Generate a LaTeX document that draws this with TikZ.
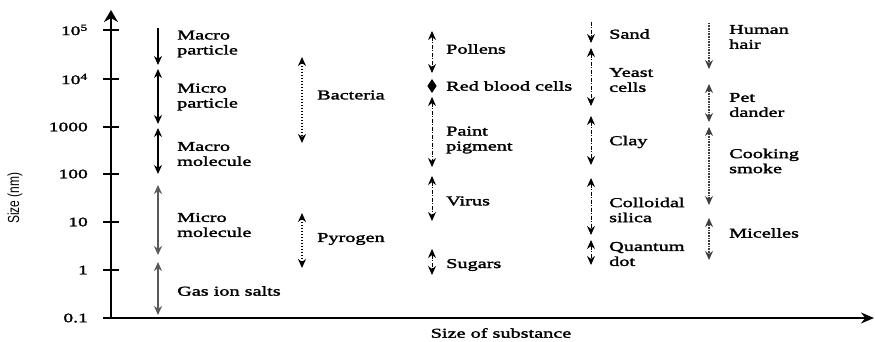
\documentclass[tikz,border=0pt]{standalone}
\usepackage{fontspec}
\setmainfont{Liberation Serif}[FakeStretch=1.5, FakeBold=2]
\newfontfamily\axisfont{Liberation Sans}[FakeStretch=0.75]
\usetikzlibrary{arrows.meta}

\tikzset{
  lab/.style={anchor=west, inner sep=0pt, align=left, font=\fontsize{13.5}{15}\selectfont},
  ticklab/.style={anchor=east, inner sep=0pt, font=\fontsize{13}{15}\selectfont},
  solidrange/.style={line width=1.4pt, black},
  grayrange/.style={line width=1.4pt, black!65},
  dotrange/.style={line width=1.8pt, dash pattern=on 1.6pt off 1.4pt},
  dashdotrange/.style={line width=0.9pt, dash pattern=on 4pt off 1.5pt on 1pt off 1.5pt},
  finerange/.style={line width=1.1pt, black!75, dash pattern=on 1pt off 0.6pt},
}

\begin{document}
\begin{tikzpicture}[x=1pt, y=-1pt, >={Stealth[length=9pt,width=8pt]}]
\useasboundingbox (0,0) rectangle (875,342);
% axes
\coordinate (orig) at (103,318);
\coordinate (ybase) at (111,318);
\coordinate (ytip) at (111,10);
\coordinate (xtip) at (874,318);
\draw[line width=1.8pt, -{Stealth[length=12pt,width=14pt]}] (ybase) -- (ytip);
\draw[line width=1.8pt, -{Stealth[length=13pt,width=11pt]}] (orig) -- (xtip);
\foreach \y / \v in {30/10\textsuperscript{5}, 79/10\textsuperscript{4}, 127/1000, 174/100, 222/10, 270/1, 318/0.1} {
  \draw[line width=1.1pt] (103,\y) -- (119,\y);
  \node[ticklab] (tick\y) at (88,\y) {\v};
}
\node[rotate=90, inner sep=0pt, font=\axisfont\fontsize{16}{18}\selectfont] (ylab) at (15,198) {Size (nm)};
\node[font=\fontsize{13.5}{15}\selectfont] (xlab) at (501,333) {Size of substance};

% column 1: particles and molecules
\foreach \t / \b / \tip / \sty / \ly / \txt [count=\i] in {28/65/->/solidrange/44/{Macro\\particle}, 69/124/<->/solidrange/97/{Micro\\particle}, 128/174/<->/solidrange/154/{Macro\\molecule}, 185/255/<->/grayrange/225/{Micro\\molecule}, 262/315/<->/grayrange/291/{Gas ion salts}} {
  \coordinate (c1t\i) at (158,\t);
  \coordinate (c1b\i) at (158,\b);
  \draw[\sty, \tip] (c1t\i) -- (c1b\i);
  \node[lab] (c1l\i) at (177,\ly) {\txt};
}

% column 2
\foreach \t / \b / \ly / \txt [count=\i] in {57/143/95/Bacteria, 213/268/239/Pyrogen} {
  \coordinate (c2t\i) at (302,\t);
  \coordinate (c2b\i) at (302,\b);
  \draw[dotrange, <->] (c2t\i) -- (c2b\i);
  \node[lab] (c2l\i) at (317,\ly) {\txt};
}

% column 3
\foreach \t / \b / \ly / \txt [count=\i] in {31/73/49/Pollens, 97/167/140/{Paint\\pigment}, 176/221/201/Virus, 249/275/265/Sugars} {
  \coordinate (c3t\i) at (432,\t);
  \coordinate (c3b\i) at (432,\b);
  \draw[dashdotrange, <->] (c3t\i) -- (c3b\i);
  \node[lab] (c3l\i) at (446,\ly) {\txt};
}
\coordinate (rbct) at (432,79);
\coordinate (rbcb) at (432,93);
\draw[line width=0.9pt, {Stealth[length=7pt,width=9pt,inset=0pt]}-{Stealth[length=7pt,width=9pt,inset=0pt]}] (rbct) -- (rbcb);
\node[lab] (rbc) at (446,86) {Red blood cells};

% column 4
\foreach \t / \b / \tip / \ly / \txt [count=\i] in {22/43/->/34/Sand, 48/106/<->/80/{Yeast\\cells}, 116/165/<->/142/Clay, 178/235/<->/210/{Colloidal\\silica}, 240/265/<->/254/{Quantum\\dot}} {
  \coordinate (c4t\i) at (591,\t);
  \coordinate (c4b\i) at (591,\b);
  \draw[dashdotrange, \tip] (c4t\i) -- (c4b\i);
  \node[lab] (c4l\i) at (609,\ly) {\txt};
}

% column 5
\foreach \t / \b / \tip / \ly / \txt [count=\i] in {23/69/->/37/{Human\\hair}, 84/122/<->/105/{Pet\\dander}, 127/205/<->/161/{Cooking\\smoke}, 218/260/<->/233/Micelles} {
  \coordinate (c5t\i) at (709,\t);
  \coordinate (c5b\i) at (709,\b);
  \draw[finerange, \tip] (c5t\i) -- (c5b\i);
  \node[lab] (c5l\i) at (729,\ly) {\txt};
}
\end{tikzpicture}
\end{document}
